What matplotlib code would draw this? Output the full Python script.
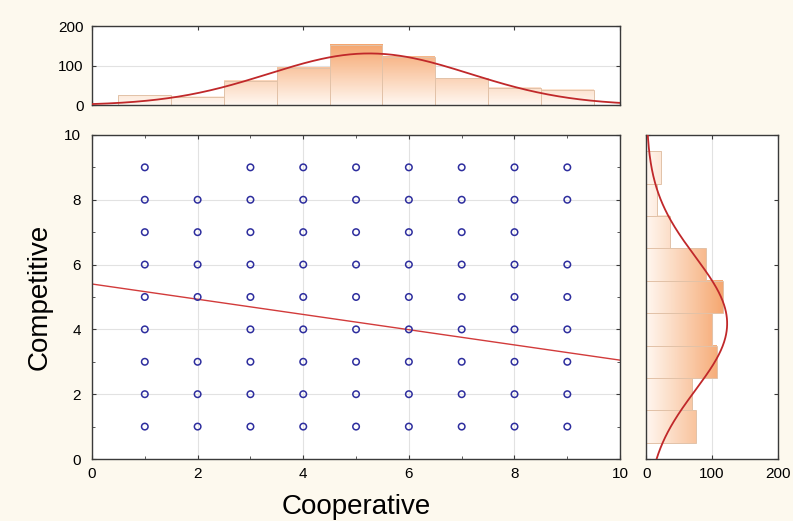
import numpy as np
import matplotlib
matplotlib.use("Agg")
from matplotlib import pyplot as plt
from matplotlib.colors import LinearSegmentedColormap, Normalize
from matplotlib.patches import Rectangle
from matplotlib.ticker import MultipleLocator

plt.rcParams['font.family'] = ['Liberation Sans', 'DejaVu Sans']

# scatter grid (Cooperative x Competitive), unique score pairs seen
grid_vals = [1, 2, 3, 4, 5, 6, 7, 8, 9]
missing = [(2, 9), (9, 7), (2, 4)]

# histogram of Cooperative (bins of width 1 centred on 1..9)
coop_centers = [1, 2, 3, 4, 5, 6, 7, 8, 9]
coop_counts = [25, 21, 62, 95, 152, 122, 68, 43, 38]

# histogram of Competitive
comp_centers = [1, 2, 3, 4, 5, 6, 7, 8, 9]
comp_counts = [75, 70, 107, 100, 116, 90, 36, 17, 23]

# regression line Competitive = a + b * Cooperative
reg_a = 5.4
reg_b = -0.235

bg = '#FDF9EE'
bar_cmap = LinearSegmentedColormap.from_list('peach', ['#FFF7F0', '#F5A268'])
curve_col = '#C0282A'
spine_col = '#3A3A3A'
grid_col = '#E2E2E2'
edge_col = '#E2C2A8'

fig = plt.figure(figsize=(7.93, 5.21), dpi=100, facecolor=bg)
ax = fig.add_axes([0.116, 0.119, 0.666, 0.622])
ax_top = fig.add_axes([0.116, 0.798, 0.666, 0.152])
ax_right = fig.add_axes([0.815, 0.119, 0.166, 0.622])


def style(a):
    for s in a.spines.values():
        s.set_color(spine_col)
        s.set_linewidth(1.0)
    a.tick_params(which='both', direction='in', top=True, right=True,
                  color=spine_col, labelsize=11, pad=6)
    a.tick_params(which='major', length=3, width=0.8)
    a.tick_params(which='minor', length=2, width=0.6)


# main scatter
xs, ys = [], []
for x in grid_vals:
    for y in grid_vals:
        if (x, y) not in missing:
            xs.append(x)
            ys.append(y)
ax.scatter(xs, ys, s=22, facecolors='none', edgecolors='#2E2E9E', linewidths=1.1, zorder=3)
xl = np.array([0, 10])
ax.plot(xl, reg_a + reg_b * xl, color='#D23B3B', lw=1.0, zorder=2)
ax.set_xlim(0, 10)
ax.set_ylim(0, 10)
ax.xaxis.set_major_locator(MultipleLocator(2))
ax.yaxis.set_major_locator(MultipleLocator(2))
ax.xaxis.set_minor_locator(MultipleLocator(1))
ax.yaxis.set_minor_locator(MultipleLocator(1))
ax.grid(True, which='major', color=grid_col, lw=0.8)
ax.set_axisbelow(True)
style(ax)
ax.tick_params(axis='y', pad=8)
ax.set_xlabel('Cooperative', fontsize=20, labelpad=9)
ax.set_ylabel('Competitive', fontsize=20, labelpad=8)

# top histogram, vertical gradient bars
norm_t = Normalize(0, 160)
for c, h in zip(coop_centers, coop_counts):
    grad = np.linspace(0, h, 64).reshape(-1, 1)
    ax_top.imshow(grad, cmap=bar_cmap, norm=norm_t, origin='lower', aspect='auto',
                  extent=(c - 0.5, c + 0.5, 0, h), zorder=1)
    ax_top.add_patch(Rectangle((c - 0.5, 0), 1, h, fill=False, ec=edge_col, lw=0.7, zorder=2))
n_t = sum(coop_counts)
m_t = np.dot(coop_centers, coop_counts) / n_t
sd_t = np.sqrt(np.dot(np.square(coop_centers), coop_counts) / n_t - m_t ** 2)
xx = np.linspace(0, 10, 300)
ax_top.plot(xx, n_t / (sd_t * np.sqrt(2 * np.pi)) * np.exp(-(xx - m_t) ** 2 / (2 * sd_t ** 2)),
            color=curve_col, lw=1.3, zorder=3)
ax_top.set_facecolor('white')
ax_top.set_xlim(0, 10)
ax_top.set_ylim(0, 200)
ax_top.set_yticks([0, 100, 200])
ax_top.xaxis.set_major_locator(MultipleLocator(2))
ax_top.set_xticklabels([])
ax_top.grid(True, axis='y', color=grid_col, lw=0.8)
ax_top.set_axisbelow(True)
style(ax_top)

# right histogram, horizontal gradient bars
norm_r = Normalize(0, 125)
for c, w in zip(comp_centers, comp_counts):
    grad = np.linspace(0, w, 64).reshape(1, -1)
    ax_right.imshow(grad, cmap=bar_cmap, norm=norm_r, origin='lower', aspect='auto',
                    extent=(0, w, c - 0.5, c + 0.5), zorder=1)
    ax_right.add_patch(Rectangle((0, c - 0.5), w, 1, fill=False, ec=edge_col, lw=0.7, zorder=2))
n_r = sum(comp_counts)
m_r = np.dot(comp_centers, comp_counts) / n_r
sd_r = np.sqrt(np.dot(np.square(comp_centers), comp_counts) / n_r - m_r ** 2)
yy = np.linspace(0, 10, 300)
ax_right.plot(n_r / (sd_r * np.sqrt(2 * np.pi)) * np.exp(-(yy - m_r) ** 2 / (2 * sd_r ** 2)), yy,
              color=curve_col, lw=1.3, zorder=3)
ax_right.set_facecolor('white')
ax_right.set_xlim(0, 200)
ax_right.set_ylim(0, 10)
ax_right.set_xticks([0, 100, 200])
ax_right.yaxis.set_major_locator(MultipleLocator(2))
ax_right.set_yticklabels([])
ax_right.grid(True, axis='x', color=grid_col, lw=0.8)
ax_right.set_axisbelow(True)
style(ax_right)

fig.savefig('out.png', dpi=100, facecolor=bg)
